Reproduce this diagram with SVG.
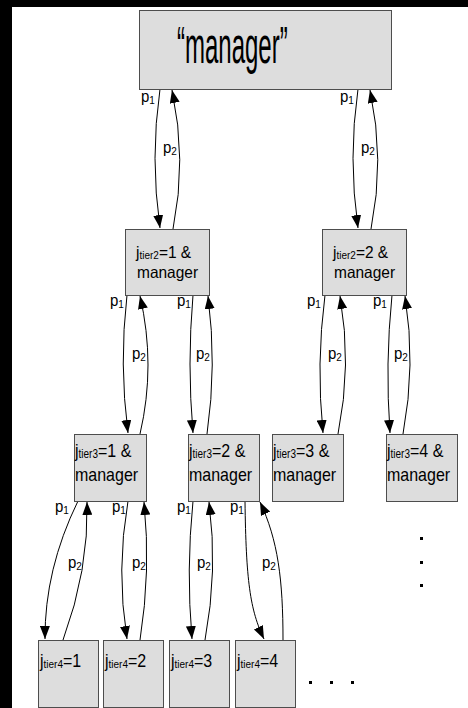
<svg xmlns="http://www.w3.org/2000/svg" width="468" height="708" viewBox="0 0 468 708">
<defs>
<style>
.box{fill:#dddddd;stroke:#4d4d4d;stroke-width:1}
.t{font-family:"Liberation Sans",Arial,sans-serif;fill:#000}
.e{fill:none;stroke:#000;stroke-width:1}
.sub{font-size:10px}
</style>
<marker id="ah" viewBox="0 0 13 10" markerWidth="13" markerHeight="10" refX="13" refY="5" orient="auto" markerUnits="userSpaceOnUse">
<path d="M0,0 L13,5 L0,10 z" fill="#000"/>
</marker>
</defs>
<rect x="0" y="0" width="468" height="708" fill="#000"/>
<rect x="12" y="7" width="456" height="701" fill="#fff"/>

<g id="edges">
<path class="e" d="M160,89 Q150,158 160,228" marker-end="url(#ah)"/>
<path class="e" d="M173,229 Q187,160 172,90" marker-end="url(#ah)"/>
<path class="e" d="M358,89 Q348,158 358,228" marker-end="url(#ah)"/>
<path class="e" d="M371,229 Q385,160 370,90" marker-end="url(#ah)"/>
<path class="e" d="M127,295 Q119,364 128,433" marker-end="url(#ah)"/>
<path class="e" d="M140,434 Q156,365 140,296" marker-end="url(#ah)"/>
<path class="e" d="M193,295 Q187,364 193,433" marker-end="url(#ah)"/>
<path class="e" d="M207,434 Q217,365 208,296" marker-end="url(#ah)"/>
<path class="e" d="M325,295 Q316,364 323,433" marker-end="url(#ah)"/>
<path class="e" d="M338,434 Q352,365 340,296" marker-end="url(#ah)"/>
<path class="e" d="M392,295 Q385,364 390,433" marker-end="url(#ah)"/>
<path class="e" d="M403,434 Q416,365 405,296" marker-end="url(#ah)"/>
<path class="e" d="M78,501 Q44.5,569.5 45,639" marker-end="url(#ah)"/>
<path class="e" d="M63,640 Q89,569.5 87,502" marker-end="url(#ah)"/>
<path class="e" d="M128,501 Q116,570 127,639" marker-end="url(#ah)"/>
<path class="e" d="M140,640 Q151,571 144,502" marker-end="url(#ah)"/>
<path class="e" d="M193,501 Q186,570 192,639" marker-end="url(#ah)"/>
<path class="e" d="M205,640 Q218,571 209,502" marker-end="url(#ah)"/>
<path class="e" d="M245,501 C246,580 250,610 264,639" marker-end="url(#ah)"/>
<path class="e" d="M283,640 C283,580 278,540 260,502" marker-end="url(#ah)"/>
</g>

<g id="edge-labels" class="t" font-size="15">
<text transform="translate(141,102) scale(1,1.15)">p<tspan class="sub" dy="2">1</tspan></text>
<text transform="translate(163,153) scale(1,1.15)">p<tspan class="sub" dy="2">2</tspan></text>
<text transform="translate(340,102) scale(1,1.15)">p<tspan class="sub" dy="2">1</tspan></text>
<text transform="translate(361,153) scale(1,1.15)">p<tspan class="sub" dy="2">2</tspan></text>
<text transform="translate(110,306) scale(1,1.15)">p<tspan class="sub" dy="2">1</tspan></text>
<text transform="translate(132,359) scale(1,1.15)">p<tspan class="sub" dy="2">2</tspan></text>
<text transform="translate(177,306) scale(1,1.15)">p<tspan class="sub" dy="2">1</tspan></text>
<text transform="translate(196,359) scale(1,1.15)">p<tspan class="sub" dy="2">2</tspan></text>
<text transform="translate(307,306) scale(1,1.15)">p<tspan class="sub" dy="2">1</tspan></text>
<text transform="translate(328,359) scale(1,1.15)">p<tspan class="sub" dy="2">2</tspan></text>
<text transform="translate(373,306) scale(1,1.15)">p<tspan class="sub" dy="2">1</tspan></text>
<text transform="translate(394,359) scale(1,1.15)">p<tspan class="sub" dy="2">2</tspan></text>
<text transform="translate(55,512) scale(1,1.15)">p<tspan class="sub" dy="2">1</tspan></text>
<text transform="translate(68,568) scale(1,1.15)">p<tspan class="sub" dy="2">2</tspan></text>
<text transform="translate(112,512) scale(1,1.15)">p<tspan class="sub" dy="2">1</tspan></text>
<text transform="translate(132,568) scale(1,1.15)">p<tspan class="sub" dy="2">2</tspan></text>
<text transform="translate(177,512) scale(1,1.15)">p<tspan class="sub" dy="2">1</tspan></text>
<text transform="translate(197,568) scale(1,1.15)">p<tspan class="sub" dy="2">2</tspan></text>
<text transform="translate(230,512) scale(1,1.15)">p<tspan class="sub" dy="2">1</tspan></text>
<text transform="translate(262,568) scale(1,1.15)">p<tspan class="sub" dy="2">2</tspan></text>
</g>

<g id="root">
<rect class="box" x="139.5" y="10.5" width="252" height="79"/>
<text class="t" font-size="24" transform="translate(177,63) scale(1,2.15)">“manager”</text>
</g>

<g id="t2-1">
<rect class="box" x="125.5" y="229.5" width="84" height="66"/>
<text class="t" font-size="15.5" transform="translate(136,257.5) scale(1,1.05)">j<tspan class="sub" dy="1">tier2</tspan><tspan dy="-1">=1 &amp;</tspan></text>
<text class="t" font-size="15.5" transform="translate(137,277.5) scale(1,1.05)">manager</text>
</g>
<g id="t2-2">
<rect class="box" x="322.5" y="229.5" width="84" height="66"/>
<text class="t" font-size="15.5" transform="translate(333,257.5) scale(1,1.05)">j<tspan class="sub" dy="1">tier2</tspan><tspan dy="-1">=2 &amp;</tspan></text>
<text class="t" font-size="15.5" transform="translate(334,277.5) scale(1,1.05)">manager</text>
</g>

<g id="t3-1">
<rect class="box" x="74.5" y="434.5" width="72" height="67"/>
<text class="t" font-size="16" transform="translate(75,457) scale(1,1.2)">j<tspan class="sub" dy="1">tier3</tspan><tspan dy="-1">=1 &amp;</tspan></text>
<text class="t" font-size="16" transform="translate(75,481) scale(1,1.2)">manager</text>
</g>
<g id="t3-2">
<rect class="box" x="188.5" y="434.5" width="71" height="67"/>
<text class="t" font-size="16" transform="translate(189,457) scale(1,1.2)">j<tspan class="sub" dy="1">tier3</tspan><tspan dy="-1">=2 &amp;</tspan></text>
<text class="t" font-size="16" transform="translate(189,481) scale(1,1.2)">manager</text>
</g>
<g id="t3-3">
<rect class="box" x="272.5" y="434.5" width="71" height="67"/>
<text class="t" font-size="16" transform="translate(273,457) scale(1,1.2)">j<tspan class="sub" dy="1">tier3</tspan><tspan dy="-1">=3 &amp;</tspan></text>
<text class="t" font-size="16" transform="translate(273,481) scale(1,1.2)">manager</text>
</g>
<g id="t3-4">
<rect class="box" x="386.5" y="434.5" width="71" height="67"/>
<text class="t" font-size="16" transform="translate(387,457) scale(1,1.2)">j<tspan class="sub" dy="1">tier3</tspan><tspan dy="-1">=4 &amp;</tspan></text>
<text class="t" font-size="16" transform="translate(387,481) scale(1,1.2)">manager</text>
</g>

<g id="t4-1">
<rect class="box" x="38.5" y="640.5" width="60" height="67"/>
<text class="t" font-size="16" transform="translate(40,667) scale(1,1.1)">j<tspan class="sub" dy="1">tier4</tspan><tspan dy="-1">=1</tspan></text>
</g>
<g id="t4-2">
<rect class="box" x="103.5" y="640.5" width="60" height="67"/>
<text class="t" font-size="16" transform="translate(105,667) scale(1,1.1)">j<tspan class="sub" dy="1">tier4</tspan><tspan dy="-1">=2</tspan></text>
</g>
<g id="t4-3">
<rect class="box" x="169.5" y="640.5" width="60" height="67"/>
<text class="t" font-size="16" transform="translate(171,667) scale(1,1.1)">j<tspan class="sub" dy="1">tier4</tspan><tspan dy="-1">=3</tspan></text>
</g>
<g id="t4-4">
<rect class="box" x="235.5" y="640.5" width="60" height="67"/>
<text class="t" font-size="16" transform="translate(237,667) scale(1,1.1)">j<tspan class="sub" dy="1">tier4</tspan><tspan dy="-1">=4</tspan></text>
</g>

<g id="ellipsis" fill="#000">
<rect x="309" y="681" width="3" height="3"/>
<rect x="330" y="681" width="3" height="3"/>
<rect x="351" y="681" width="3" height="3"/>
<rect x="420" y="537" width="3" height="3"/>
<rect x="420" y="561" width="3" height="3"/>
<rect x="420" y="584" width="3" height="3"/>
</g>
</svg>
